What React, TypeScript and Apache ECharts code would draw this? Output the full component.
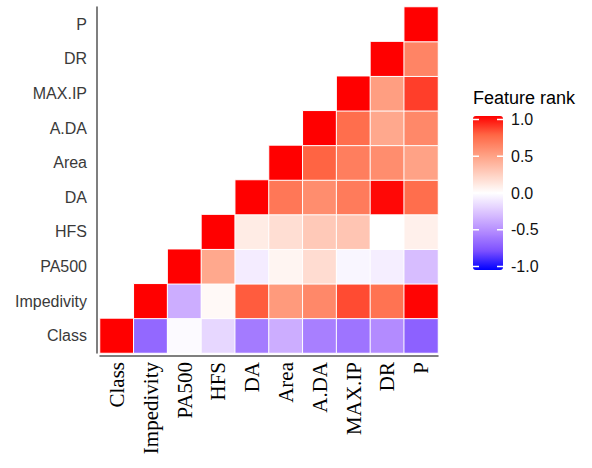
import React, { useEffect, useRef } from "react";
import * as echarts from "echarts";

// Feature order (x: left→right, y: bottom→top)
const features = ["Class", "Impedivity", "PA500", "HFS", "DA", "Area", "A.DA", "MAX.IP", "DR", "P"];

// Upper-triangle rows: values for columns from the row's own index to the last one
const rowClass = [1, -0.65, -0.02, -0.17, -0.57, -0.35, -0.55, -0.6, -0.5, -0.68];
const rowImpedivity = [1, -0.35, 0.03, 0.78, 0.52, 0.6, 0.82, 0.7, 0.99];
const rowPA500 = [1, 0.45, -0.08, 0.05, 0.18, -0.04, -0.07, -0.28];
const rowHFS = [1, 0.1, 0.17, 0.28, 0.3, 0.0, 0.08];
const rowDA = [1, 0.68, 0.58, 0.66, 0.98, 0.72];
const rowArea = [1, 0.76, 0.65, 0.58, 0.48];
const rowADA = [1, 0.72, 0.45, 0.6];
const rowMAXIP = [1, 0.5, 0.85];
const rowDR = [1, 0.62];
const rowP = [1];

const rows = [rowClass, rowImpedivity, rowPA500, rowHFS, rowDA, rowArea, rowADA, rowMAXIP, rowDR, rowP];

const legendTitle = "Feature rank";
const legendTicks = [1, 0.5, 0, -0.5, -1];
const legendTickLabels = ["1.0", "0.5", "0.0", "-0.5", "-1.0"];

// Lab-like interpolation stops blue → white → red
const colorStops = ["#0000ff", "#7e51ff", "#b38bff", "#dcc4ff", "#ffffff", "#ffcfbf", "#ff9e81", "#ff6846", "#ff0000"];

export default function App() {
  const ref = useRef<HTMLDivElement>(null);

  useEffect(() => {
    if (!ref.current) return;
    const chart = echarts.init(ref.current, undefined, { renderer: "svg" });

    const data: [number, number, number][] = [];
    rows.forEach((vals, r) => {
      vals.forEach((v, k) => {
        data.push([r + k, r, v]);
      });
    });

    const barLeft = 473;
    const barTop = 116;
    const barW = 30;
    const barH = 154;
    const inset = 3.5;
    const tickY = (v: number) => barTop + inset + ((1 - v) / 2) * (barH - 2 * inset);

    const graphics: any[] = [
      {
        type: "text",
        left: barLeft,
        top: 89,
        style: {
          text: legendTitle,
          fontFamily: "Liberation Sans, Arial, sans-serif",
          fontSize: 18,
          fill: "#000",
        },
      },
    ];
    legendTicks.forEach((v, i) => {
      const y = tickY(v);
      graphics.push({
        type: "line",
        shape: { x1: barLeft, y1: y, x2: barLeft + 6, y2: y },
        style: { stroke: "#fff", lineWidth: 1.5 },
        z: 100,
      });
      graphics.push({
        type: "line",
        shape: { x1: barLeft + barW - 6, y1: y, x2: barLeft + barW, y2: y },
        style: { stroke: "#fff", lineWidth: 1.5 },
        z: 100,
      });
      graphics.push({
        type: "text",
        x: 511,
        y: y,
        style: {
          text: legendTickLabels[i],
          fontFamily: "Liberation Sans, Arial, sans-serif",
          fontSize: 16,
          fill: "#111",
          verticalAlign: "middle",
          align: "left",
        },
        z: 100,
      });
    });

    chart.setOption({
      animation: false,
      backgroundColor: "#fff",
      grid: { left: 100, right: 154, top: 7, bottom: 115, containLabel: false },
      xAxis: {
        type: "category",
        data: features,
        offset: 3,
        axisLine: { show: true, lineStyle: { color: "#555", width: 1.5 } },
        axisTick: { show: false },
        splitLine: { show: false },
        axisLabel: {
          rotate: 90,
          margin: 6,
          fontFamily: "Liberation Serif, Times New Roman, serif",
          fontSize: 21,
          color: "#000",
          interval: 0,
        },
      },
      yAxis: {
        type: "category",
        data: features,
        offset: 3,
        axisLine: { show: true, lineStyle: { color: "#555", width: 1.5 } },
        axisTick: { show: false },
        splitLine: { show: false },
        axisLabel: {
          margin: 10,
          fontFamily: "Liberation Sans, Arial, sans-serif",
          fontSize: 16,
          color: "#3a3a3a",
          interval: 0,
        },
      },
      visualMap: {
        type: "continuous",
        min: -1,
        max: 1,
        calculable: false,
        orient: "vertical",
        left: barLeft,
        top: barTop,
        itemWidth: barW,
        itemHeight: barH,
        padding: 0,
        inRange: { color: colorStops },
        textStyle: { color: "transparent" },
        hoverLink: false,
      },
      graphic: graphics,
      series: [
        {
          type: "heatmap",
          data,
          itemStyle: { borderColor: "#fff", borderWidth: 1 },
          emphasis: { disabled: true },
          label: { show: false },
        },
      ],
    });

    return () => chart.dispose();
  }, []);

  return (
    <div
      ref={ref}
      style={{ position: "fixed", left: 0, top: 0, width: 592, height: 468 }}
    />
  );
}
